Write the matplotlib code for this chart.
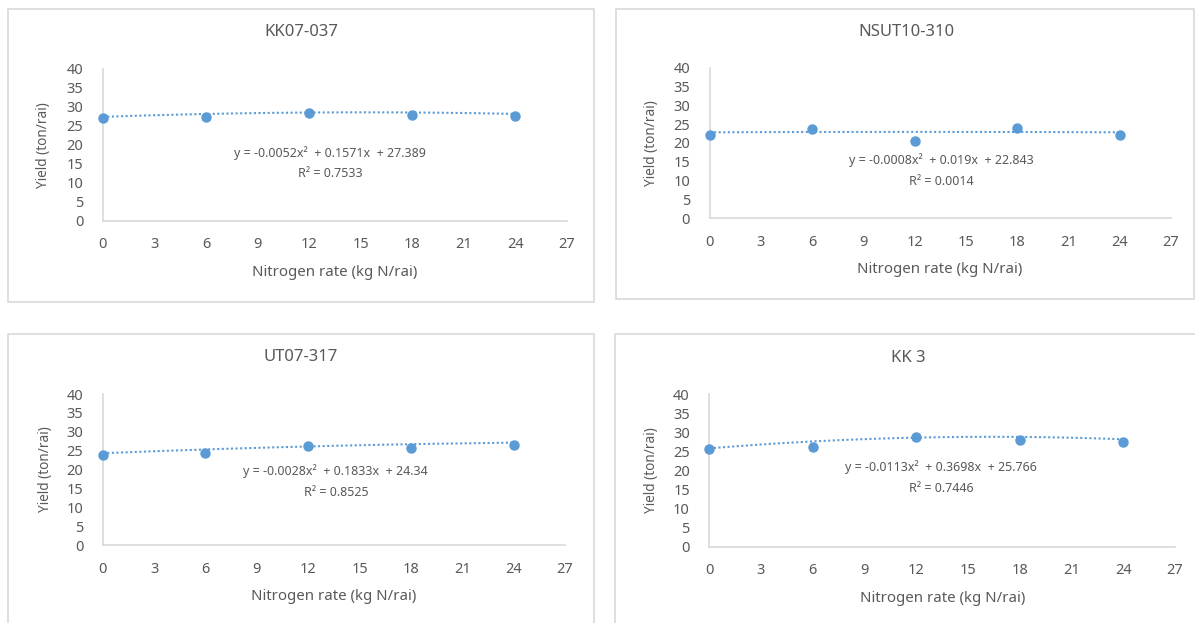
import numpy as np
import matplotlib; matplotlib.use('Agg')
from matplotlib import pyplot as plt
from matplotlib.patches import Rectangle

plt.rcParams['font.family'] = ['Noto Sans', 'DejaVu Sans']

W, H = 1195, 623

# yield data per variety
rates = [0, 6, 12, 18, 24]
names = ["KK07-037", "NSUT10-310", "UT07-317", "KK 3"]
yield_kk07 = [27.0, 27.3, 28.3, 27.8, 27.6]
yield_nsut = [22.2, 23.8, 20.5, 24.1, 22.0]
yield_ut07 = [23.8, 24.3, 26.2, 25.8, 26.6]
yield_kk3 = [25.5, 26.1, 28.7, 27.9, 27.4]
# quadratic trendline coefficients (a, b, c) and R squared
coef_kk07 = (-0.0052, 0.1571, 27.389)
coef_nsut = (-0.0008, 0.019, 22.843)
coef_ut07 = (-0.0028, 0.1833, 24.34)
coef_kk3 = (-0.0113, 0.3698, 25.766)
eq_texts = ["y = -0.0052x\u00b2  + 0.1571x  + 27.389",
            "y = -0.0008x\u00b2  + 0.019x  + 22.843",
            "y = -0.0028x\u00b2  + 0.1833x  + 24.34",
            "y = -0.0113x\u00b2  + 0.3698x  + 25.766"]
r2_texts = ["R\u00b2 = 0.7533", "R\u00b2 = 0.0014", "R\u00b2 = 0.8525", "R\u00b2 = 0.7446"]
xticks = list(range(0, 28, 3))
yticks = list(range(0, 41, 5))

series = [yield_kk07, yield_nsut, yield_ut07, yield_kk3]
coefs = [coef_kk07, coef_nsut, coef_ut07, coef_kk3]

# pixel layout of each panel: frame box, plot area, title, eq, labels
panels = [
    dict(box=(8, 9, 594, 302), ax=(102.7, 69, 567, 220.7), title=(301, 32),
         eq=(330, 153), r2=(330, 174), xl=(335, 273), yl=(43, 145)),
    dict(box=(616, 9, 1194, 299), ax=(709.5, 67.7, 1171, 218.3), title=(906.6, 31.7),
         eq=(941.6, 160), r2=(941.6, 181.7), xl=(940, 269.3), yl=(651, 143)),
    dict(box=(8, 334, 594, 640), ax=(102.7, 394, 565, 545.3), title=(300.8, 357),
         eq=(335.4, 470.7), r2=(336.4, 492), xl=(334, 596.7), yl=(45, 469)),
    dict(box=(615, 334, 1200, 640), ax=(709.3, 394, 1175, 546.7), title=(908, 357.7),
         eq=(941.4, 467.3), r2=(941.2, 489), xl=(942.7, 598.3), yl=(651, 470)),
]

blue = '#5b9bd5'
txt = '#595959'
grey = '#d9d9d9'


def fx(x):
    return x / W


def fy(y):
    return 1 - y / H


fig = plt.figure(figsize=(W / 100, H / 100), dpi=100)

for name, ys, (a, b, c), eq, r2, p in zip(names, series, coefs, eq_texts, r2_texts, panels):
    x0, y0, x1, y1 = p['box']
    fig.patches.append(Rectangle((fx(x0), fy(y1)), fx(x1 - x0), (y1 - y0) / H,
                                 transform=fig.transFigure, fill=False,
                                 edgecolor=grey, lw=1.2))
    l, t, r, bt = p['ax']
    ax = fig.add_axes([fx(l), fy(bt), fx(r - l), (bt - t) / H])
    xs = np.linspace(0, 24, 200)
    ax.plot(xs, a * xs**2 + b * xs + c, color=blue, lw=1.5,
            linestyle=(0, (1, 1.2)), zorder=2, clip_on=False)
    ax.plot(rates, ys, 'o', color=blue, ms=6.5, zorder=3, clip_on=False)
    ax.set_xlim(0, 27)
    ax.set_ylim(0, 40)
    ax.set_xticks(xticks)
    ax.set_yticks(yticks)
    ax.tick_params(length=0, colors=txt, labelsize=10.5)
    ax.tick_params(axis='x', pad=12)
    ax.tick_params(axis='y', pad=14)
    for s in ['top', 'right']:
        ax.spines[s].set_visible(False)
    for s in ['left', 'bottom']:
        ax.spines[s].set_color(grey)
        ax.spines[s].set_linewidth(1.2)

    fig.text(fx(p['title'][0]), fy(p['title'][1]), name, ha='center', va='center',
             fontsize=12, color=txt)
    fig.text(fx(p['eq'][0]), fy(p['eq'][1]), eq, ha='center', va='center',
             fontsize=9, color=txt)
    fig.text(fx(p['r2'][0]), fy(p['r2'][1]), r2, ha='center', va='center',
             fontsize=9, color=txt)
    fig.text(fx(p['xl'][0]), fy(p['xl'][1]), "Nitrogen rate (kg N/rai)", ha='center',
             va='center', fontsize=10.8, color=txt)
    fig.text(fx(p['yl'][0]), fy(p['yl'][1]), "Yield (ton/rai)", ha='center',
             va='center', rotation=90, fontsize=9.8, color=txt)

plt.savefig("out.png", dpi=100, facecolor='white')
